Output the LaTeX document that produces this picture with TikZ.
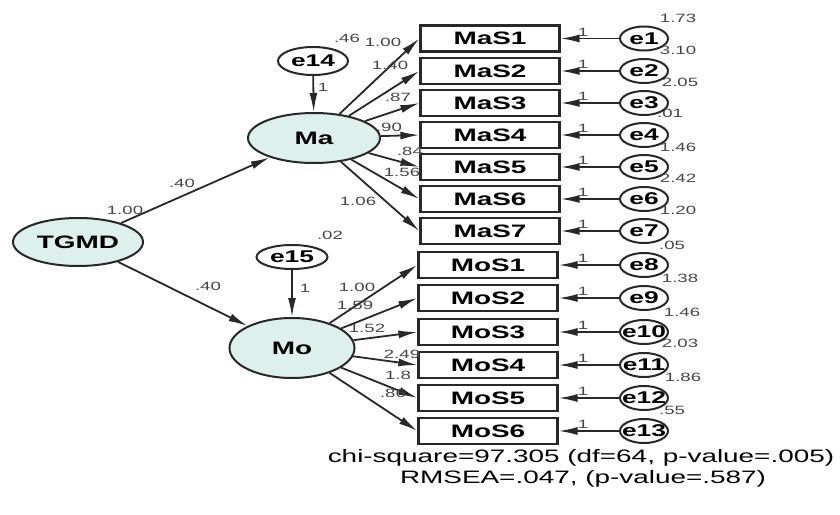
\documentclass[tikz,border=0pt]{standalone}
\usepackage{fontspec}
\setmainfont{Liberation Sans}
\usepackage{graphicx}
\usetikzlibrary{shapes.geometric,arrows.meta}
\definecolor{latfill}{RGB}{222,240,236}
\definecolor{inkgray}{RGB}{40,40,40}
\definecolor{lblgray}{RGB}{70,70,70}
\newcommand{\wtxt}[1]{\makebox[0pt]{\scalebox{1.55}[1]{#1}}}

\begin{document}
\begin{tikzpicture}[x=1pt,y=-1pt,
    latent/.style={ellipse,draw=inkgray,line width=2pt,fill=latfill,inner sep=0pt,font=\fontsize{18}{18}\selectfont\bfseries},
    obs/.style={rectangle,draw=inkgray,line width=2.2pt,fill=white,minimum width=139pt,minimum height=26pt,inner sep=0pt,font=\fontsize{18}{18}\selectfont\bfseries},
    err/.style={ellipse,draw=inkgray,line width=2pt,fill=white,minimum width=48pt,minimum height=24pt,inner sep=0pt,font=\fontsize{17}{17}\selectfont\bfseries},
    lbl/.style={inner sep=0pt,font=\fontsize{12}{12}\selectfont,text=lblgray},
    fit/.style={inner sep=0pt,font=\fontsize{18}{18}\selectfont,text=black},
    arr/.style={draw=inkgray,line width=1.8pt,-{Latex[length=19pt,width=8pt]}}]
    \useasboundingbox (0,0) rectangle (840,514);
    % -------------------------
    % Latent variables
    % -------------------------
    \node[latent,minimum width=130pt,minimum height=48pt] (TGMD) at (78,242) {\wtxt{TGMD}};
    \node[latent,minimum width=132pt,minimum height=50pt] (Ma) at (314,138) {\wtxt{Ma}};
    \node[latent,minimum width=125pt,minimum height=60pt] (Mo) at (292,348) {\wtxt{Mo}};
    \node[err,minimum width=70pt,minimum height=28pt] (e14) at (313,61) {\wtxt{e14}};
    \node[err,minimum width=71pt,minimum height=24pt] (e15) at (292,257) {\wtxt{e15}};

    % -------------------------
    % Ma items
    % -------------------------
    \node[obs] (MaS1) at (490,38.5) {\wtxt{MaS1}};
    \node[obs] (MaS2) at (490,71) {\wtxt{MaS2}};
    \node[obs] (MaS3) at (490,103) {\wtxt{MaS3}};
    \node[obs] (MaS4) at (490,135) {\wtxt{MaS4}};
    \node[obs] (MaS5) at (490,167) {\wtxt{MaS5}};
    \node[obs] (MaS6) at (490,199) {\wtxt{MaS6}};
    \node[obs] (MaS7) at (490,231) {\wtxt{MaS7}};
    % Mo items
    \node[obs] (MoS1) at (488,265) {\wtxt{MoS1}};
    \node[obs] (MoS2) at (488,298) {\wtxt{MoS2}};
    \node[obs] (MoS3) at (488,332) {\wtxt{MoS3}};
    \node[obs] (MoS4) at (488,365) {\wtxt{MoS4}};
    \node[obs] (MoS5) at (488,398) {\wtxt{MoS5}};
    \node[obs] (MoS6) at (488,431) {\wtxt{MoS6}};

    % -------------------------
    % Error terms
    % -------------------------
    \node[err] (e1) at (644,38.5) {\wtxt{e1}};
    \node[err] (e2) at (644,71) {\wtxt{e2}};
    \node[err] (e3) at (644,103) {\wtxt{e3}};
    \node[err] (e4) at (644,135) {\wtxt{e4}};
    \node[err] (e5) at (644,167) {\wtxt{e5}};
    \node[err] (e6) at (644,199) {\wtxt{e6}};
    \node[err] (e7) at (644,231) {\wtxt{e7}};
    \node[err] (e8) at (644,265) {\wtxt{e8}};
    \node[err] (e9) at (644,298) {\wtxt{e9}};
    \node[err] (e10) at (644,332) {\wtxt{e10}};
    \node[err] (e11) at (644,365) {\wtxt{e11}};
    \node[err] (e12) at (644,398) {\wtxt{e12}};
    \node[err] (e13) at (644,431) {\wtxt{e13}};

    % -------------------------
    % Structural paths
    % -------------------------
    \draw[arr] (TGMD) -- (Ma);
    \draw[arr] (TGMD) -- (Mo);
    \draw[arr] (e14) -- (Ma);
    \draw[arr] (e15) -- (Mo);

    % Loadings
    \draw[arr] (Ma) -- (MaS1.west);
    \draw[arr] (Ma) -- (MaS2.west);
    \draw[arr] (Ma) -- (MaS3.west);
    \draw[arr] (Ma) -- (MaS4.west);
    \draw[arr] (Ma) -- (MaS5.west);
    \draw[arr] (Ma) -- (MaS6.west);
    \draw[arr] (Ma) -- (MaS7.west);
    \draw[arr] (Mo) -- (MoS1.west);
    \draw[arr] (Mo) -- (MoS2.west);
    \draw[arr] (Mo) -- (MoS3.west);
    \draw[arr] (Mo) -- (MoS4.west);
    \draw[arr] (Mo) -- (MoS5.west);
    \draw[arr] (Mo) -- (MoS6.west);

    % Errors into items
    \draw[arr] (e1) -- (MaS1);
    \draw[arr] (e2) -- (MaS2);
    \draw[arr] (e3) -- (MaS3);
    \draw[arr] (e4) -- (MaS4);
    \draw[arr] (e5) -- (MaS5);
    \draw[arr] (e6) -- (MaS6);
    \draw[arr] (e7) -- (MaS7);
    \draw[arr] (e8) -- (MoS1);
    \draw[arr] (e9) -- (MoS2);
    \draw[arr] (e10) -- (MoS3);
    \draw[arr] (e11) -- (MoS4);
    \draw[arr] (e12) -- (MoS5);
    \draw[arr] (e13) -- (MoS6);

    % -------------------------
    % Estimates
    % -------------------------
    \node[lbl] (vTGMD) at (125,210) {\wtxt{1.00}};
    \node[lbl] (wMa) at (182,183) {\wtxt{.40}};
    \node[lbl] (wMo) at (208,286) {\wtxt{.40}};
    \node[lbl] (ve14) at (347,38) {\wtxt{.46}};
    \node[lbl] (fe14) at (323,87) {\wtxt{1}};
    \node[lbl] (ve15) at (330,235) {\wtxt{.02}};
    \node[lbl] (fe15) at (305,288) {\wtxt{1}};

    \node[lbl] (wa1) at (383,42) {\wtxt{1.00}};
    \node[lbl] (wa2) at (390,65) {\wtxt{1.40}};
    \node[lbl] (wa3) at (398,97) {\wtxt{.87}};
    \node[lbl] (wa4) at (389,127) {\wtxt{.90}};
    \node[lbl] (wa5) at (410,151) {\wtxt{.84}};
    \node[lbl] (wa6) at (402,172) {\wtxt{1.56}};
    \node[lbl] (wa7) at (358,201) {\wtxt{1.06}};

    \node[lbl] (wo1) at (357,287) {\wtxt{1.00}};
    \node[lbl] (wo2) at (355,305) {\wtxt{1.59}};
    \node[lbl] (wo3) at (367,328) {\wtxt{1.52}};
    \node[lbl] (wo4) at (402,354) {\wtxt{2.49}};
    \node[lbl] (wo5) at (398,375) {\wtxt{1.8}};
    \node[lbl] (wo6) at (393,393) {\wtxt{.86}};

    % Fixed paths and error variances
    \node[lbl] (f1) at (583,32) {\wtxt{1}};
    \node[lbl] (f2) at (583,64.5) {\wtxt{1}};
    \node[lbl] (f3) at (583,96.5) {\wtxt{1}};
    \node[lbl] (f4) at (583,128.5) {\wtxt{1}};
    \node[lbl] (f5) at (583,160.5) {\wtxt{1}};
    \node[lbl] (f6) at (583,192.5) {\wtxt{1}};
    \node[lbl] (f7) at (583,224.5) {\wtxt{1}};
    \node[lbl] (f8) at (583,258.5) {\wtxt{1}};
    \node[lbl] (f9) at (583,291.5) {\wtxt{1}};
    \node[lbl] (f10) at (583,325.5) {\wtxt{1}};
    \node[lbl] (f11) at (583,358.5) {\wtxt{1}};
    \node[lbl] (f12) at (583,391.5) {\wtxt{1}};
    \node[lbl] (f13) at (583,424.5) {\wtxt{1}};

    \node[lbl] (v1) at (678,18) {\wtxt{1.73}};
    \node[lbl] (v2) at (678,50) {\wtxt{3.10}};
    \node[lbl] (v3) at (680,82) {\wtxt{2.05}};
    \node[lbl] (v4) at (670,113) {\wtxt{.01}};
    \node[lbl] (v5) at (678,147) {\wtxt{1.46}};
    \node[lbl] (v6) at (678,178) {\wtxt{2.42}};
    \node[lbl] (v7) at (678,210) {\wtxt{1.20}};
    \node[lbl] (v8) at (672,245) {\wtxt{.05}};
    \node[lbl] (v9) at (680,278) {\wtxt{1.38}};
    \node[lbl] (v10) at (682,312) {\wtxt{1.46}};
    \node[lbl] (v11) at (680,343) {\wtxt{2.03}};
    \node[lbl] (v12) at (683,377) {\wtxt{1.86}};
    \node[lbl] (v13) at (672,410) {\wtxt{.55}};

    % -------------------------
    % Fit indices
    % -------------------------
    \node[fit] (chi) at (581,458) {\wtxt{chi-square=97.305 (df=64, p-value=.005)}};
    \node[fit] (rmsea) at (583,479) {\wtxt{RMSEA=.047, (p-value=.587)}};
\end{tikzpicture}
\end{document}
